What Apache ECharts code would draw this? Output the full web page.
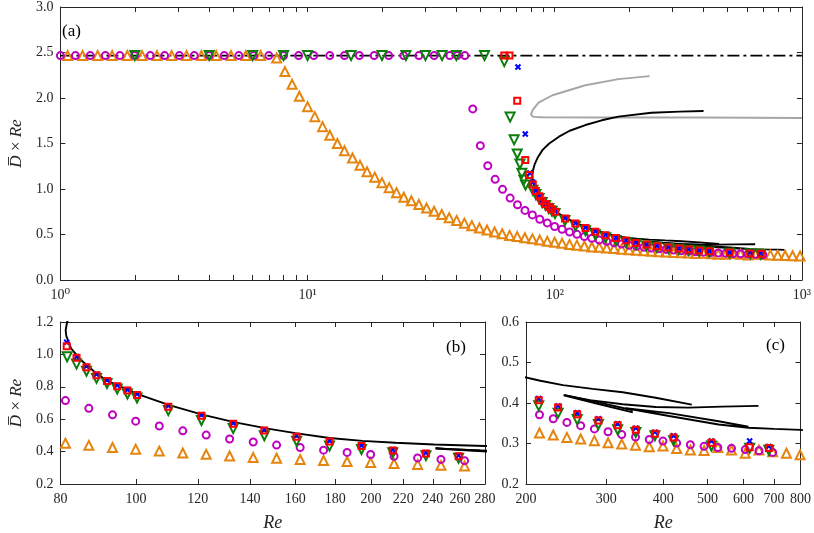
<!DOCTYPE html>
<html>
<head>
<meta charset="utf-8">
<script src="https://cdn.jsdelivr.net/npm/echarts@6/dist/echarts.min.js"></script>
<title>Dbar x Re</title>
<style>
  html, body { margin: 0; padding: 0; background: #fff; }
  #main { width: 814px; height: 533px; }
</style>
</head>
<body>
<div id="main"></div>
<script type="text/javascript">
// ---- axis ticks / labels ----
var ticksA = [1,2,3,4,5,6,7,8,9,10,20,30,40,50,60,70,80,90,100,200,300,400,500,600,700,800,900,1000];
var labelsA = [1, 10, 100, 1000];
var ticksB = [80,100,120,140,160,180,200,220,240,260,280];
var ticksC = [200,300,400,500,600,700,800];

// ---- dash-dot reference level ----
var refRe = [1, 1000];
var refVal = [2.466, 2.466];

// ---- orange triangles ----
var orangeRe = [1.07,1.23,1.415,1.62,1.865,2.14,2.46,2.82,3.24,3.72,4.27,4.9,5.63,6.46,
  7.5,8.1,8.66,9.26,10,10.7,11.5,12.3,13.2,14.1,
  15.2,16.3,17.4,18.7,20,21.4,22.9,24.5,26.3,28.2,
  30.3,32.5,34.9,37.4,40.1,43.1,46.2,49.6,53.2,57.1,
  61.3,65.7,70.5,75.7,81.2,87.0,93.3,99.9,107.1,114.8,
  123.0,131.8,141.3,151.4,162.3,173.9,186.4,199.8,214.1,229.5,
  245.9,263.6,282.5,302.7,324.4,347.7,372.7,399.4,428.0,458.7,
  491.6,526.9,564.7,605.2,648.6,695.1,745.0,798.4,855.7,917,
  983];
var orangeVal = [2.466,2.466,2.466,2.466,2.466,2.466,2.466,2.466,2.466,2.466,2.466,2.466,2.466,2.466,
  2.44,2.29,2.15,2.02,1.905,1.795,1.685,1.59,1.50,1.42,
  1.34,1.26,1.19,1.13,1.07,1.015,0.96,0.91,0.87,0.83,
  0.79,0.755,0.72,0.685,0.655,0.625,0.597,0.572,0.55,0.528,
  0.508,0.49,0.477,0.465,0.452,0.4385,0.425,0.415,0.403,0.391,
  0.383,0.373,0.363,0.359,0.351,0.345,0.339,0.332,0.326,0.321,
  0.315,0.311,0.307,0.302,0.2985,0.2955,0.292,0.294,0.2876,0.284,
  0.283,0.29,0.284,0.276,0.284,0.2795,0.276,0.272,0.27,0.267,
  0.263];

// ---- magenta circles ----
var magentaRe = [1.0,1.15,1.32,1.52,1.74,2.0,2.31,2.64,3.03,3.48,
  4.0,4.6,5.27,6.05,6.97,8.0,9.2,10.6,12.3,14.1,
  16.2,18.6,21.3,24.5,28.2,32.5,37.6,40.3,43.3,
  46.6,50.0,53.6,57.4,61.5,66.0,70.7,75.8,
  81.2,87.0,93.3,99.9,107.1,114.8,123.0,131.8,141.3,151.4,
  162.3,173.9,186.4,199.8,214.1,229.5,245.9,263.6,282.5,302.7,
  324.4,347.7,372.7,399.4,428.0,458.7,491.6,526.9,564.7,605.2,
  648.6,695.1];
var magentaVal = [2.466,2.466,2.466,2.466,2.466,2.466,2.466,2.466,2.466,2.466,
  2.466,2.466,2.466,2.466,2.466,2.466,2.466,2.466,2.466,2.466,
  2.466,2.466,2.466,2.466,2.466,2.466,2.466,2.466,2.466,
  1.88,1.476,1.256,1.106,0.996,0.90,0.827,0.765,
  0.715,0.667,0.627,0.588,0.558,0.528,0.502,0.478,0.459,0.44,
  0.425,0.409,0.395,0.382,0.371,0.361,0.352,0.344,0.336,0.329,
  0.322,0.316,0.310,0.306,0.301,0.297,0.293,0.290,0.288,0.285,
  0.282,0.278];

// ---- green down-triangles ----
var greenRe = [2,4,6,8,10,15,20,25,30,35,40,52,
  62.5,66,68.5,70.5,72.3,73.6,75,76.2,
  81.6,83.9,86.4,89,91.8,94.6,97.5,100.3,110,121.3,
  133.2,146,160.6,177,194.5,213.3,235.2,259,288.3,317.7,
  348.3,383.5,421.4,510.2,618.8,681.8];
var greenVal = [2.466,2.466,2.466,2.466,2.466,2.466,2.466,2.466,2.466,2.466,2.466,2.466,
  2.40,1.79,1.54,1.385,1.275,1.172,1.099,1.044,
  0.985,0.94,0.896,0.852,0.82,0.786,0.756,0.731,0.653,0.592,
  0.542,0.498,0.464,0.434,0.413,0.393,0.375,0.359,0.347,0.334,
  0.327,0.319,0.307,0.294,0.288,0.2835];

// ---- red squares ----
var redRe = [62.5,65.6,70.5,76,78.6,
  81.5,83.9,86.4,89,91.8,94.6,97.5,100.3,110,121.3,
  133.2,146,160.6,177,194.5,213.3,235.2,259,288.3,317.7,
  348.3,383.5,421.4,510.2,618.8,681.8];
var redVal = [2.466,2.466,1.97,1.319,1.155,
  1.05,0.979,0.921,0.872,0.836,0.804,0.777,0.75,0.677,0.622,
  0.572,0.53,0.492,0.462,0.434,0.407,0.389,0.372,0.357,0.345,
  0.334,0.324,0.315,0.302,0.291,0.289];

// ---- blue crosses ----
var blueRe = [71,76,79.3,
  81.5,83.9,86.4,89,91.8,94.6,97.5,100.3,110,121.3,
  133.2,146,160.6,177,194.5,213.3,235.2,259,288.3,317.7,
  348.3,383.5,421.4,510.2,618.8,681.8];
var blueVal = [2.34,1.604,1.176,
  1.075,0.985,0.926,0.877,0.841,0.809,0.782,0.755,0.682,0.627,
  0.577,0.535,0.497,0.467,0.438,0.411,0.393,0.376,0.361,0.349,
  0.338,0.328,0.319,0.306,0.306,0.293];

// ---- black solid branches ----
var mainRe = [400,320,246,181,155,133,115,104,95,89.3,85.5,82.9,81.6,81.25,81.4,
  82.6,85,88.3,91.6,100.3,110.3,121.6,134,147.5,160,177,195,215,241,280,326,385,462];
var mainVal = [1.857,1.85,1.838,1.795,1.755,1.703,1.64,1.575,1.5,1.43,1.35,1.27,1.2,1.15,1.114,
  1.035,0.965,0.896,0.84,0.756,0.687,0.628,0.58,0.542,0.514,0.484,0.466,0.455,0.444,0.435,0.4266,0.413,0.396];
var branch2Re = [343,290,242,276,326,385,455,538,647];
var branch2Val = [0.377,0.397,0.419,0.407,0.397,0.390,0.3885,0.391,0.393];
var branch3Re = [242,290,343];
var branch3Val = [0.420,0.401,0.382];
var branch4Re = [615,529,412,331,412,529,615,700,800,850];
var branch4Val = [0.3415,0.355,0.375,0.387,0.368,0.347,0.339,0.336,0.3336,0.331];

// ---- grey branch ----
var greyRe = [242,181,133,97.9,86,81.5,80.2,81.5,85,89.3,155.6,390,1000];
var greyVal = [2.24,2.207,2.14,2.03,1.95,1.87,1.82,1.795,1.79,1.788,1.785,1.785,1.78];

var FONT = "'Liberation Serif', 'DejaVu Serif', serif";
var INK = '#262626';
var SUP = ['\u2070', '\u00b9', '\u00b2', '\u00b3'];

function zip(xs, ys) {
    return xs.map(function (x, i) { return [x, ys[i]]; });
}

function xPair(gi, min, max, ticks, labels, fmt, name) {
    var base = {
        type: 'log', logBase: 10, gridIndex: gi, min: min, max: max,
        axisLine: { onZero: false, lineStyle: { color: INK, width: 1 } },
        axisTick: { inside: true, length: 5, customValues: ticks, lineStyle: { color: INK } },
        splitLine: { show: false }
    };
    var bottom = echarts.util.merge({
        position: 'bottom',
        axisLabel: { customValues: labels, formatter: fmt, color: INK, fontFamily: FONT, fontSize: 14, margin: 8 },
        name: name || '', nameLocation: 'middle', nameGap: 30,
        nameTextStyle: { fontFamily: FONT, fontSize: 18, fontStyle: 'italic', color: INK }
    }, base, true);
    var top = echarts.util.merge({ position: 'top', axisLabel: { show: false } }, echarts.util.clone(base), true);
    return [bottom, top];
}

function yPair(gi, min, max, step, name) {
    var base = {
        type: 'value', gridIndex: gi, min: min, max: max, interval: step,
        axisLine: { show: true, onZero: false, lineStyle: { color: INK, width: 1 } },
        axisTick: { show: true, inside: true, length: 5, lineStyle: { color: INK } },
        splitLine: { show: false }
    };
    var left = echarts.util.merge({
        position: 'left',
        axisLabel: { formatter: function (v) { return v.toFixed(1); }, color: INK, fontFamily: FONT, fontSize: 14, margin: 7 },
        name: name || '', nameLocation: 'middle', nameGap: 23, nameRotate: 90,
        nameTextStyle: { fontFamily: FONT, fontSize: 17, color: INK, rich: { i: { fontFamily: FONT, fontSize: 17, fontStyle: 'italic', color: INK } } }
    }, base, true);
    var right = echarts.util.merge({ position: 'right', axisLabel: { show: false } }, echarts.util.clone(base), true);
    return [left, right];
}

function curve(gi, xs, ys, color, type, width) {
    return {
        type: 'line', xAxisIndex: 2 * gi, yAxisIndex: 2 * gi,
        data: zip(xs, ys), showSymbol: false, symbol: 'none', clip: true,
        lineStyle: { color: color, width: width || 1.9, type: type || 'solid' },
        emphasis: { disabled: true }, silent: true, z: 2
    };
}

function marks(gi, xs, ys, color, symbol, size, rot) {
    return {
        type: 'scatter', xAxisIndex: 2 * gi, yAxisIndex: 2 * gi,
        data: zip(xs, ys), symbol: symbol, symbolSize: size, symbolRotate: rot || 0, clip: true,
        itemStyle: { color: 'rgba(0,0,0,0)', borderColor: color, borderWidth: 2, opacity: 1 },
        emphasis: { disabled: true }, silent: true, z: 3
    };
}

var CROSS = 'path://M0,0L10,10M10,0L0,10';

function panelSeries(gi) {
    return [
        curve(gi, refRe, refVal, '#000', [12, 4, 3, 4], 1.6),
        curve(gi, greyRe, greyVal, '#a6a6a6'),
        curve(gi, mainRe, mainVal, '#000'),
        curve(gi, branch2Re, branch2Val, '#000'),
        curve(gi, branch3Re, branch3Val, '#000'),
        curve(gi, branch4Re, branch4Val, '#000'),
        marks(gi, orangeRe, orangeVal, '#e6850e', 'triangle', 9),
        marks(gi, magentaRe, magentaVal, '#c000c0', 'circle', 7),
        marks(gi, greenRe, greenVal, '#0a7d0a', 'triangle', 9, 180),
        marks(gi, blueRe, blueVal, '#0000ff', CROSS, 5),
        marks(gi, redRe, redVal, '#ff0000', 'rect', 6)
    ];
}

var dName = '{i|D\u0305} \u00d7 {i|Re}';

var xa = xPair(0, 1, 1000, ticksA, labelsA, function (v) {
    return '10' + SUP[Math.round(Math.log(v) / Math.LN10)];
});
var xb = xPair(1, 80, 280, ticksB, ticksB, function (v) { return String(Math.round(v)); }, 'Re');
var xc = xPair(2, 200, 800, ticksC, ticksC, function (v) { return String(Math.round(v)); }, 'Re');
var ya = yPair(0, 0, 3, 0.5, dName);
var yb = yPair(1, 0.2, 1.2, 0.2, dName);
var yc = yPair(2, 0.2, 0.6, 0.1, '');

var titleStyle = { fontFamily: FONT, fontSize: 17, fontWeight: 'normal', color: '#000' };

var option = {
    animation: false,
    backgroundColor: '#fff',
    title: [
        { text: '(a)', left: 62, top: 23, textStyle: titleStyle, padding: 0 },
        { text: '(b)', left: 446, top: 339, textStyle: titleStyle, padding: 0 },
        { text: '(c)', left: 766, top: 337, textStyle: titleStyle, padding: 0 }
    ],
    grid: [
        { left: 52, top: 7, width: 750, height: 273 },
        { left: 52, top: 322, width: 433, height: 168 },
        { left: 526, top: 322, width: 276, height: 168 }
    ],
    xAxis: xa.concat(xb, xc),
    yAxis: ya.concat(yb, yc),
    series: panelSeries(0).concat(panelSeries(1), panelSeries(2))
};

var myChart = echarts.init(document.getElementById('main'), null, { renderer: 'canvas' });
myChart.setOption(option);
</script>
</body>
</html>
